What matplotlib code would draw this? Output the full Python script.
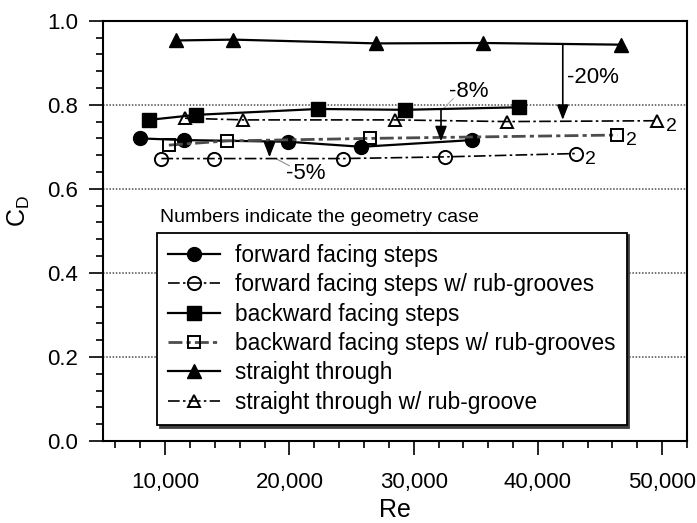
import matplotlib
matplotlib.use('Agg')
import matplotlib.pyplot as plt
from matplotlib.ticker import MultipleLocator, FuncFormatter

plt.rcParams['font.family'] = ['Liberation Sans', 'DejaVu Sans']
plt.rcParams['mathtext.fontset'] = 'custom'
plt.rcParams['mathtext.rm'] = 'Liberation Sans'
plt.rcParams['mathtext.it'] = 'Liberation Sans:italic'

# ── drag coefficient vs Reynolds number ──────────────────────
re_fwd      = [8000, 11500, 19900, 25800, 34700]
cd_fwd      = [0.720, 0.716, 0.712, 0.700, 0.716]
re_fwd_rub  = [9700, 13900, 24300, 32500, 43100]
cd_fwd_rub  = [0.672, 0.672, 0.672, 0.676, 0.684]
re_bwd      = [8700, 12500, 22300, 29300, 38500]
cd_bwd      = [0.764, 0.776, 0.790, 0.788, 0.794]
re_bwd_rub  = [10300, 15000, 26500, 46400]
cd_bwd_rub  = [0.704, 0.714, 0.720, 0.728]
re_str      = [10900, 15500, 27000, 35600, 46700]
cd_str      = [0.953, 0.955, 0.946, 0.947, 0.943]
re_str_rub  = [11600, 16300, 28500, 37500, 49600]
cd_str_rub  = [0.768, 0.764, 0.764, 0.760, 0.762]

labels = ['forward facing steps',
          'forward facing steps w/ rub-grooves',
          'backward facing steps',
          'backward facing steps w/ rub-grooves',
          'straight through',
          'straight through w/ rub-groove']

# reduction arrows: label, Re, from CD, to CD
drop_labels = ['-20%', '-8%', '-5%']
drop_re     = [42000, 32200, 18400]
drop_from   = [0.944, 0.789, 0.713]
drop_to     = [0.764, 0.713, 0.675]

case_label = '2'

fig = plt.figure(figsize=(6.97, 5.23), dpi=100, facecolor='white')
ax = fig.add_axes([0.1478, 0.1568, 0.8379, 0.8036])

DD = (0, (7, 2, 1.5, 2))   # dash-dot for the rub-groove runs
solid = dict(color='black', lw=1.6, ls='-', ms=10, zorder=4)
rub = dict(color='black', lw=1.2, ls=DD, ms=9.5, mfc='none', mew=1.4, zorder=4)

h1, = ax.plot(re_fwd, cd_fwd, marker='o', **solid)
h2, = ax.plot(re_fwd_rub, cd_fwd_rub, marker='o', **rub)
h3, = ax.plot(re_bwd, cd_bwd, marker='s', **solid)
h4, = ax.plot(re_bwd_rub, cd_bwd_rub, marker='s', color='0.3', lw=2.0,
              ls=(0, (5, 1.5, 1.5, 1.5)), ms=9, mfc='none', mec='black',
              mew=1.4, zorder=4)
h5, = ax.plot(re_str, cd_str, marker='^', **solid)
h6, = ax.plot(re_str_rub, cd_str_rub, marker='^', color='black', lw=1.2,
              ls=DD, ms=8.5, mfc='none', mew=1.4, zorder=4)

# geometry case numbers beside the last point of each rub-groove run
for xs, ys in [(re_fwd_rub, cd_fwd_rub), (re_bwd_rub, cd_bwd_rub),
               (re_str_rub, cd_str_rub)]:
    ax.annotate(case_label, (xs[-1], ys[-1]), xytext=(6, -4),
                textcoords='offset points', ha='left', va='center',
                fontsize=14, zorder=6)

# arrows marking the drop in CD
for lab, x, y0, y1 in zip(drop_labels, drop_re, drop_from, drop_to):
    ax.annotate('', xy=(x, y1), xytext=(x, y0),
                arrowprops=dict(arrowstyle='-|>,head_length=0.9,head_width=0.35',
                                color='black', lw=1.2, shrinkA=0, shrinkB=0),
                zorder=5)
ax.text(42300, 0.866, drop_labels[0], fontsize=16, ha='left', va='center')
ax.text(34400, 0.832, drop_labels[1], fontsize=16, ha='center', va='center')
ax.text(21300, 0.636, drop_labels[2], fontsize=16, ha='center', va='center')
ax.plot([18900, 20000], [0.672, 0.655], color='0.55', lw=0.8, zorder=3)
ax.plot([32400, 33200], [0.791, 0.815], color='0.7', lw=0.8, zorder=3)

# axes, ticks and grid
ax.set_xlim(5000, 52000)
ax.set_ylim(0.0, 1.0)
ax.xaxis.set_major_locator(MultipleLocator(10000))
ax.xaxis.set_minor_locator(MultipleLocator(2000))
ax.yaxis.set_major_locator(MultipleLocator(0.2))
ax.yaxis.set_minor_locator(MultipleLocator(0.04))
ax.xaxis.set_major_formatter(FuncFormatter(lambda v, p: f'{v:,.0f}'))
ax.yaxis.set_major_formatter(FuncFormatter(lambda v, p: f'{v:.1f}'))
ax.tick_params(which='both', direction='out', top=False, right=False,
               width=1.2, labelsize=16)
ax.tick_params(axis='x', which='major', length=10, pad=12)
ax.tick_params(axis='y', which='major', length=10, pad=8)
ax.tick_params(which='minor', length=5)
for sp in ax.spines.values():
    sp.set_linewidth(1.5)

for gy in [0.2, 0.4, 0.6, 0.8]:
    ax.axhline(gy, color='0.3', lw=1.1, ls=(0, (1, 1.1)), zorder=1)

ax.set_xlabel('Re', fontsize=18, labelpad=4)
ax.set_ylabel(r'$\mathregular{C_D}$', fontsize=18)
ax.yaxis.set_label_coords(-0.122, 0.548)

ax.text(0.098, 0.522, 'Numbers indicate the geometry case', transform=ax.transAxes,
        fontsize=14, ha='left', va='baseline', zorder=6)

leg = ax.legend([h1, h2, h3, h4, h5, h6], labels, loc='lower left',
                bbox_to_anchor=(0.092, 0.038), fontsize=16.3, frameon=True,
                fancybox=False, edgecolor='black', framealpha=1.0,
                borderpad=0.5, labelspacing=0.28, handlelength=2.3,
                handletextpad=0.65, borderaxespad=0,
                shadow={'color': '0.25', 'alpha': 1.0})
leg.get_frame().set_linewidth(1.3)
leg.set_zorder(7)

fig.savefig('out.png', dpi=100, facecolor='white')
